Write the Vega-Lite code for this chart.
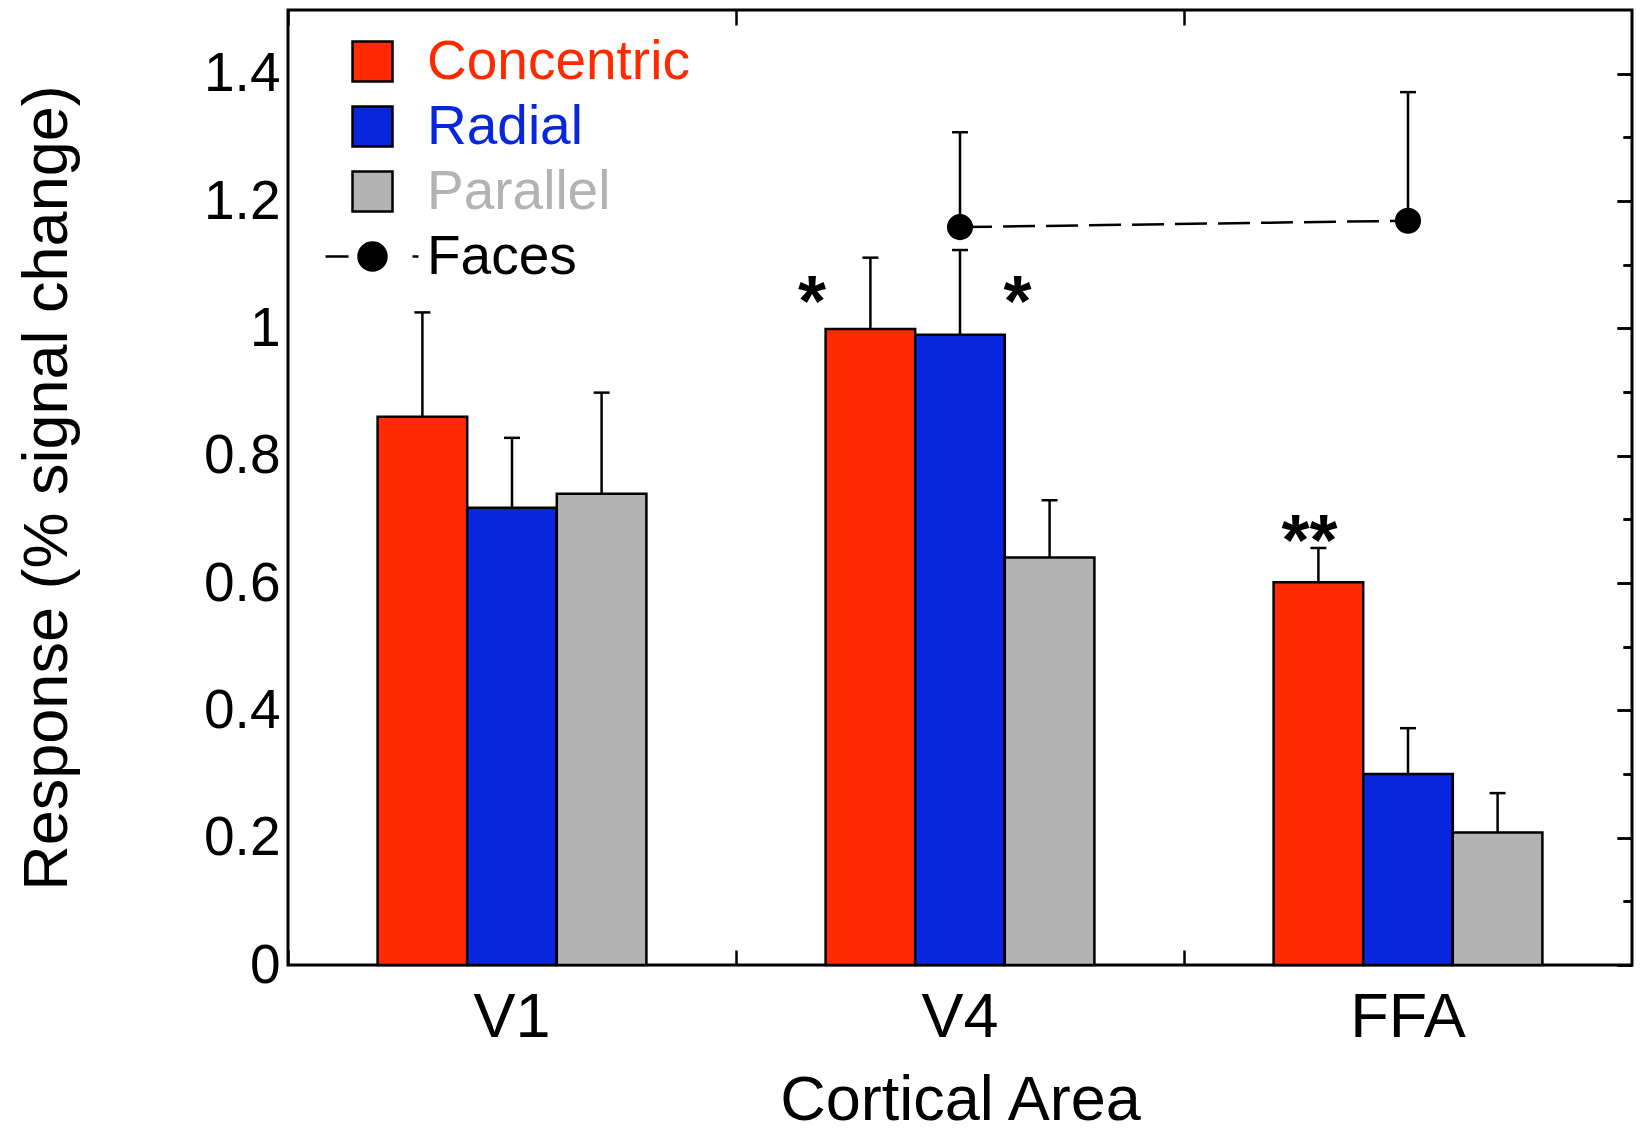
{
  "$schema": "https://vega.github.io/schema/vega-lite/v6.json",
  "width": 1344,
  "height": 955,
  "autosize": "none",
  "padding": {"left": 288, "top": 10, "right": 8, "bottom": 163},
  "background": "white",
  "config": {
    "font": "Liberation Sans",
    "view": {"stroke": "black", "strokeWidth": 3},
    "axis": {"grid": false, "domain": false, "labelColor": "black", "titleColor": "black", "titleFontWeight": "normal", "tickColor": "black", "tickWidth": 2.5, "labelFont": "Liberation Sans", "titleFont": "Liberation Sans"},
    "text": {"font": "Liberation Sans"}
  },
  "datasets": {
    "bars": [
      {"area": "V1", "cond": "Concentric", "value": 0.861, "upper": 1.025},
      {"area": "V1", "cond": "Radial", "value": 0.718, "upper": 0.828},
      {"area": "V1", "cond": "Parallel", "value": 0.740, "upper": 0.899},
      {"area": "V4", "cond": "Concentric", "value": 0.999, "upper": 1.111},
      {"area": "V4", "cond": "Radial", "value": 0.990, "upper": 1.123},
      {"area": "V4", "cond": "Parallel", "value": 0.640, "upper": 0.730},
      {"area": "FFA", "cond": "Concentric", "value": 0.601, "upper": 0.655},
      {"area": "FFA", "cond": "Radial", "value": 0.300, "upper": 0.372},
      {"area": "FFA", "cond": "Parallel", "value": 0.208, "upper": 0.270}
    ],
    "faces": [
      {"area": "V4", "series": "Faces", "value": 1.159, "upper": 1.308},
      {"area": "FFA", "series": "Faces", "value": 1.169, "upper": 1.371}
    ],
    "stars": [
      {"id": 1, "area": "V4", "cond": "Concentric", "label": "*", "y": 1.039},
      {"id": 2, "area": "V4", "cond": "Radial", "label": "*", "y": 1.039},
      {"id": 3, "area": "FFA", "cond": "Concentric", "label": "**", "y": 0.663}
    ]
  },
  "resolve": {"axis": {"x": "independent", "y": "independent"}},
  "layer": [
    {
      "data": {"name": "bars"},
      "mark": {"type": "bar", "stroke": "black", "strokeWidth": 2.5},
      "encoding": {
        "x": {"field": "area", "type": "nominal", "scale": {"domain": ["V1", "V4", "FFA"], "paddingInner": 0, "paddingOuter": 0},
              "axis": {"orient": "bottom", "ticks": false, "labelFontSize": 63, "labelPadding": 21, "labelAngle": 0, "title": "Cortical Area", "titleFontSize": 63, "titlePadding": 20}},
        "xOffset": {"field": "cond", "type": "nominal", "scale": {"domain": ["Concentric", "Radial", "Parallel"], "paddingInner": 0, "paddingOuter": 1.017}},
        "y": {"field": "value", "type": "quantitative", "scale": {"domain": [0, 1.5], "nice": false},
              "axis": {"values": [0, 0.2, 0.4, 0.6, 0.8, 1, 1.2, 1.4], "ticks": false, "format": ".1~f", "labelFontSize": 55, "labelPadding": 8, "title": "Response (% signal change)", "titleFontSize": 63, "titlePadding": 124}},
        "color": {"field": "cond", "type": "nominal",
                  "scale": {"domain": ["Concentric", "Radial", "Parallel", "Faces"], "range": ["#FF2A00", "#0826DC", "#B3B3B3", "#000000"]},
                  "legend": {"title": null, "orient": "none", "legendX": 57, "legendY": 24, "padding": 0,
                             "labelFontSize": 55, "labelOffset": 27, "labelLimit": 600, "symbolSize": 1600, "symbolType": "square",
                             "symbolStrokeColor": "black", "symbolStrokeWidth": 2.5, "rowPadding": 9,
                             "encode": {
                               "labels": {"update": {"fill": {"scale": "color", "field": "value"}}},
                               "symbols": {"update": {"shape": {"signal": "datum.value === 'Faces' ? 'M-2.35,0H-1.2M-0.7,0A0.7,0.7,0,1,1,0.7,0A0.7,0.7,0,1,1,-0.7,0ZM2.0,0H2.3' : 'square'"}, "stroke": {"value": "black"}}}
                             }}}
      }
    },
    {
      "data": {"name": "bars"},
      "mark": {"type": "rule", "color": "black", "strokeWidth": 2.5},
      "encoding": {
        "x": {"field": "area", "type": "nominal", "scale": {"domain": ["V1", "V4", "FFA"], "paddingInner": 0, "paddingOuter": 0},
              "axis": {"orient": "bottom", "bandPosition": 0, "labels": false, "tickSize": -15, "title": null}},
        "xOffset": {"field": "cond", "type": "nominal", "scale": {"domain": ["Concentric", "Radial", "Parallel"], "paddingInner": 0, "paddingOuter": 1.017}},
        "y": {"field": "value", "type": "quantitative", "scale": {"domain": [0, 1.5], "nice": false},
              "axis": {"values": [0, 0.2, 0.4, 0.6, 0.8, 1, 1.2, 1.4], "labels": false, "tickSize": -15, "title": null}},
        "y2": {"field": "upper"}
      }
    },
    {
      "data": {"name": "bars"},
      "mark": {"type": "tick", "orient": "horizontal", "size": 16, "thickness": 2.5, "color": "black", "opacity": 1},
      "encoding": {
        "x": {"field": "area", "type": "nominal", "scale": {"domain": ["V1", "V4", "FFA"], "paddingInner": 0, "paddingOuter": 0},
              "axis": {"orient": "top", "bandPosition": 0, "labels": false, "tickSize": -15, "title": null}},
        "xOffset": {"field": "cond", "type": "nominal", "scale": {"domain": ["Concentric", "Radial", "Parallel"], "paddingInner": 0, "paddingOuter": 1.017}},
        "y": {"field": "upper", "type": "quantitative", "scale": {"domain": [0, 1.5], "nice": false},
              "axis": {"values": [0.1, 0.3, 0.5, 0.7, 0.9, 1.1, 1.3], "labels": false, "tickSize": -9, "title": null}}
      }
    },
    {
      "data": {"name": "faces"},
      "mark": {"type": "line", "color": "black", "strokeWidth": 2.5, "strokeDash": [32, 11]},
      "encoding": {
        "x": {"field": "area", "type": "nominal", "scale": {"domain": ["V1", "V4", "FFA"], "paddingInner": 0, "paddingOuter": 0}, "axis": null},
        "y": {"field": "value", "type": "quantitative", "scale": {"domain": [0, 1.5], "nice": false},
              "axis": {"orient": "right", "values": [0, 0.2, 0.4, 0.6, 0.8, 1, 1.2, 1.4], "labels": false, "tickSize": -15, "title": null}}
      }
    },
    {
      "data": {"name": "faces"},
      "mark": {"type": "rule", "color": "black", "strokeWidth": 2.5},
      "encoding": {
        "x": {"field": "area", "type": "nominal", "scale": {"domain": ["V1", "V4", "FFA"], "paddingInner": 0, "paddingOuter": 0}, "axis": null},
        "y": {"field": "value", "type": "quantitative", "scale": {"domain": [0, 1.5], "nice": false},
              "axis": {"orient": "right", "values": [0.1, 0.3, 0.5, 0.7, 0.9, 1.1, 1.3], "labels": false, "tickSize": -9, "title": null}},
        "y2": {"field": "upper"}
      }
    },
    {
      "data": {"name": "faces"},
      "mark": {"type": "tick", "orient": "horizontal", "size": 16, "thickness": 2.5, "color": "black", "opacity": 1},
      "encoding": {
        "x": {"field": "area", "type": "nominal", "scale": {"domain": ["V1", "V4", "FFA"], "paddingInner": 0, "paddingOuter": 0}, "axis": null},
        "y": {"field": "upper", "type": "quantitative", "scale": {"domain": [0, 1.5], "nice": false}, "axis": null}
      }
    },
    {
      "data": {"name": "faces"},
      "mark": {"type": "point", "shape": "circle", "filled": true, "color": "black", "size": 680, "opacity": 1},
      "encoding": {
        "x": {"field": "area", "type": "nominal", "scale": {"domain": ["V1", "V4", "FFA"], "paddingInner": 0, "paddingOuter": 0}, "axis": null},
        "y": {"field": "value", "type": "quantitative", "scale": {"domain": [0, 1.5], "nice": false}, "axis": null}
      }
    },
    {
      "data": {"name": "stars"},
      "transform": [{"filter": "datum.id === 1"}],
      "mark": {"type": "text", "fontSize": 72, "fontWeight": "bold", "baseline": "middle", "align": "center", "dx": -58.5, "color": "black"},
      "encoding": {
        "x": {"field": "area", "type": "nominal", "scale": {"domain": ["V1", "V4", "FFA"], "paddingInner": 0, "paddingOuter": 0}, "axis": null},
        "xOffset": {"field": "cond", "type": "nominal", "scale": {"domain": ["Concentric", "Radial", "Parallel"], "paddingInner": 0, "paddingOuter": 1.017}},
        "y": {"field": "y", "type": "quantitative", "scale": {"domain": [0, 1.5], "nice": false}, "axis": null},
        "text": {"field": "label"}
      }
    },
    {
      "data": {"name": "stars"},
      "transform": [{"filter": "datum.id === 2"}],
      "mark": {"type": "text", "fontSize": 72, "fontWeight": "bold", "baseline": "middle", "align": "center", "dx": 57.5, "color": "black"},
      "encoding": {
        "x": {"field": "area", "type": "nominal", "scale": {"domain": ["V1", "V4", "FFA"], "paddingInner": 0, "paddingOuter": 0}, "axis": null},
        "xOffset": {"field": "cond", "type": "nominal", "scale": {"domain": ["Concentric", "Radial", "Parallel"], "paddingInner": 0, "paddingOuter": 1.017}},
        "y": {"field": "y", "type": "quantitative", "scale": {"domain": [0, 1.5], "nice": false}, "axis": null},
        "text": {"field": "label"}
      }
    },
    {
      "data": {"name": "stars"},
      "transform": [{"filter": "datum.id === 3"}],
      "mark": {"type": "text", "fontSize": 72, "fontWeight": "bold", "baseline": "middle", "align": "center", "dx": -9, "color": "black"},
      "encoding": {
        "x": {"field": "area", "type": "nominal", "scale": {"domain": ["V1", "V4", "FFA"], "paddingInner": 0, "paddingOuter": 0}, "axis": null},
        "xOffset": {"field": "cond", "type": "nominal", "scale": {"domain": ["Concentric", "Radial", "Parallel"], "paddingInner": 0, "paddingOuter": 1.017}},
        "y": {"field": "y", "type": "quantitative", "scale": {"domain": [0, 1.5], "nice": false}, "axis": null},
        "text": {"field": "label"}
      }
    }
  ]
}
